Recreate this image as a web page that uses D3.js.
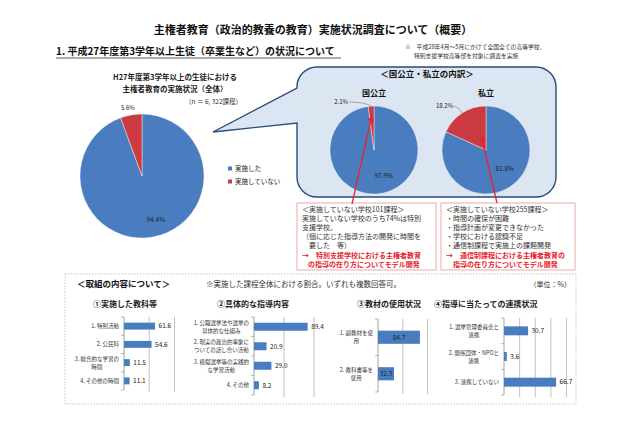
<!DOCTYPE html>
<html>
<head>
<meta charset="utf-8">
<script src="https://cdn.jsdelivr.net/npm/d3@7"></script>
<style>
  body { margin: 0; background: #fff; }
  svg { font-family: "Noto Sans CJK JP", "Noto Sans", sans-serif; }
</style>
</head>
<body>
<div id="chart"></div>
<script>
// ---- data ----
const statusLabels = ["実施した", "実施していない"];
const overallValues = [94.4, 5.6];
const publicValues = [97.9, 2.1];
const privateValues = [81.8, 18.2];

const subjectCats = [["1. 特別活動"], ["2. 公民科"], ["3. 総合的な学習の", "時間"], ["4. その他の時間"]];
const subjectValues = [61.6, 54.6, 11.5, 11.1];
const contentCats = [["1. 公職選挙法や選挙の", "具体的な仕組み"], ["2. 現実の政治的事象に", "ついての話し合い活動"], ["3. 模擬選挙等の実践的", "な学習活動"], ["4. その他"]];
const contentValues = [89.4, 20.9, 29.0, 8.2];
const materialCats = [["1. 副教材を使", "用"], ["2. 教科書等を", "使用"]];
const materialValues = [84.7, 32.3];
const linkCats = [["1. 選挙管理委員会と", "連携"], ["2. 関係団体・NPOと", "連携"], ["3. 連携していない"]];
const linkValues = [30.7, 3.6, 66.7];

const publicNotes = ["＜実施していない学校101課程＞", "実施していない学校のうち74%は特別", "支援学校。", "（個に応じた指導方法の開発に時間を", "　要した　等）"];
const publicAction = ["→　特別支援学校における主権者教育", "の指導の在り方についてモデル開発"];
const privateNotes = ["＜実施していない学校255課程＞", "・時間の確保が困難", "・指導計画が変更できなかった", "・学校における認識不足", "・通信制課程で実施上の課題開発"];
const privateAction = ["→　通信制課程における主権者教育の", "指導の在り方についてモデル開発"];

const blue = "#4a7dc0", red = "#cc3a42", arrowRed = "#e8242c";
const colors = [blue, red];

const svg = d3.select("#chart").append("svg")
    .attr("width", 640)
    .attr("height", 426);

svg.append("defs").append("marker")
    .attr("id", "head")
    .attr("viewBox", "0 0 10 10")
    .attr("refX", 8).attr("refY", 5)
    .attr("markerWidth", 5).attr("markerHeight", 5)
    .attr("orient", "auto")
    .append("path").attr("d", "M0,0L10,5L0,10z").attr("fill", arrowRed);

// ---- headings ----
svg.append("text").attr("x", 313).attr("y", 34).attr("text-anchor", "middle")
    .attr("font-size", 11).attr("font-weight", "bold").attr("fill", "#111")
    .text("主権者教育（政治的教養の教育）実施状況調査について（概要）");
svg.append("text").attr("x", 56).attr("y", 55)
    .attr("font-size", 10).attr("font-weight", "bold").attr("fill", "#111")
    .text("1. 平成27年度第3学年以上生徒（卒業生など）の状況について");
svg.append("line").attr("x1", 56).attr("x2", 341).attr("y1", 58).attr("y2", 58)
    .attr("stroke", "#333").attr("stroke-width", 0.8);
svg.append("text").attr("x", 405).attr("y", 49).attr("font-size", 5.8).attr("fill", "#333")
    .text("※　平成28年4月～5月にかけて全国全ての高等学校、");
svg.append("text").attr("x", 414).attr("y", 58).attr("font-size", 5.8).attr("fill", "#333")
    .text("特別支援学校高等部を対象に調査を実施");

// ---- overall pie ----
function polar(cx, cy, a, r) {
    return [cx + r * Math.sin(a), cy - r * Math.cos(a)];
}

function drawPie(values, cx, cy, r) {
    const arcs = d3.pie().sort(null)(values);
    const arc = d3.arc().innerRadius(0).outerRadius(r);
    svg.append("g").attr("transform", `translate(${cx},${cy})`)
        .selectAll("path").data(arcs).join("path")
        .attr("d", arc)
        .attr("fill", (d, i) => colors[i])
        .attr("stroke", "#fff").attr("stroke-width", 0.4);
    return arcs.map(d => (d.startAngle + d.endAngle) / 2);
}

const pc = {cx: 142, cy: 176, r: 62};
svg.append("text").attr("x", 175).attr("y", 80).attr("text-anchor", "middle")
    .attr("font-size", 7.5).attr("font-weight", "bold").attr("fill", "#222")
    .text("H27年度第3学年以上の生徒における");
svg.append("text").attr("x", 175).attr("y", 92).attr("text-anchor", "middle")
    .attr("font-size", 7.5).attr("font-weight", "bold").attr("fill", "#222")
    .text("主権者教育の実施状況（全体）");
svg.append("text").attr("x", 185).attr("y", 104)
    .attr("font-size", 6.5).attr("fill", "#333")
    .text("（n ＝ 6, 322課程）");

const mids = drawPie(overallValues, pc.cx, pc.cy, pc.r);
let p = polar(pc.cx, pc.cy, mids[0], pc.r * 0.72);
svg.append("text").attr("x", p[0] + 6).attr("y", p[1] + 2).attr("text-anchor", "middle")
    .attr("font-size", 6.5).attr("fill", "#222").text(overallValues[0].toFixed(1) + "%");
p = polar(pc.cx, pc.cy, mids[1], pc.r * 1.12);
svg.append("text").attr("x", p[0] - 2).attr("y", p[1] + 2).attr("text-anchor", "middle")
    .attr("font-size", 6).attr("fill", "#222").text(overallValues[1].toFixed(1) + "%");

const legend = svg.append("g").attr("transform", "translate(228,169)");
statusLabels.forEach((s, i) => {
    legend.append("rect").attr("x", 0).attr("y", i * 13 - 2.5).attr("width", 4).attr("height", 4)
        .attr("fill", colors[i]);
    legend.append("text").attr("x", 7).attr("y", i * 13 + 2.3)
        .attr("font-size", 6.5).attr("fill", "#222").text(s);
});

// ---- callout bubble ----
const bx0 = 297, bx1 = 556, by0 = 67, by1 = 197, br = 20;
svg.append("path")
    .attr("d", `M${bx0 + br},${by0}H${bx1 - br}A${br},${br} 0 0 1 ${bx1},${by0 + br}` +
        `V${by1 - br}A${br},${br} 0 0 1 ${bx1 - br},${by1}H${bx0 + br}` +
        `A${br},${br} 0 0 1 ${bx0},${by1 - br}V123L213,132L${bx0},88V${by0 + br}` +
        `A${br},${br} 0 0 1 ${bx0 + br},${by0}Z`)
    .attr("fill", "#dce6f2").attr("stroke", "#274b7a").attr("stroke-width", 1.4);

svg.append("text").attr("x", 427).attr("y", 77).attr("text-anchor", "middle")
    .attr("font-size", 8.5).attr("font-weight", "bold").attr("fill", "#111")
    .text("＜国公立・私立の内訳＞");

const pub = {cx: 374, cy: 150, r: 44, name: "国公立"};
const pri = {cx: 486, cy: 150, r: 44, name: "私立"};
[pub, pri].forEach(c => {
    svg.append("text").attr("x", c.cx).attr("y", 96).attr("text-anchor", "middle")
        .attr("font-size", 8).attr("font-weight", "bold").attr("fill", "#111").text(c.name);
});

const pubMids = drawPie(publicValues, pub.cx, pub.cy, pub.r);
const priMids = drawPie(privateValues, pri.cx, pri.cy, pri.r);

p = polar(pub.cx, pub.cy, pubMids[0], pub.r * 0.6);
svg.append("text").attr("x", p[0] + 8).attr("y", p[1] + 2).attr("text-anchor", "middle")
    .attr("font-size", 6.5).attr("fill", "#222").text(publicValues[0].toFixed(1) + "%");
p = polar(pri.cx, pri.cy, priMids[0], pri.r * 0.62);
svg.append("text").attr("x", p[0] + 4).attr("y", p[1] - 2).attr("text-anchor", "middle")
    .attr("font-size", 6.5).attr("fill", "#222").text(privateValues[0].toFixed(1) + "%");

// outside labels with leader lines
p = polar(pub.cx, pub.cy, pubMids[1], pub.r);
svg.append("path").attr("d", `M${p[0] - 22},${p[1] - 4}Q${p[0] - 6},${p[1] - 4} ${p[0]},${p[1]}`)
    .attr("fill", "none").attr("stroke", "#777").attr("stroke-width", 0.6);
svg.append("text").attr("x", p[0] - 23).attr("y", p[1] - 2).attr("text-anchor", "end")
    .attr("font-size", 6).attr("fill", "#222").text(publicValues[1].toFixed(1) + "%");
p = polar(pri.cx, pri.cy, priMids[1], pri.r);
svg.append("path").attr("d", `M${p[0] - 8},${p[1] - 7}Q${p[0] - 3},${p[1] - 6} ${p[0]},${p[1]}`)
    .attr("fill", "none").attr("stroke", "#777").attr("stroke-width", 0.6);
svg.append("text").attr("x", p[0] - 9).attr("y", p[1] - 5).attr("text-anchor", "end")
    .attr("font-size", 6).attr("fill", "#222").text(privateValues[1].toFixed(1) + "%");

// ---- note boxes ----
function noteBox(x0, x1, lines, action, actionIndent) {
    svg.append("rect").attr("x", x0).attr("y", 203).attr("width", x1 - x0).attr("height", 67)
        .attr("fill", "#fff").attr("stroke", "#e8a0a8").attr("stroke-width", 0.9);
    lines.forEach((t, i) => {
        svg.append("text").attr("x", x0 + 5).attr("y", 212 + i * 9.1)
            .attr("font-size", 7).attr("fill", "#333").text(t);
    });
    action.forEach((t, i) => {
        svg.append("text").attr("x", x0 + 5 + (i ? actionIndent : 0)).attr("y", 257.5 + i * 9)
            .attr("font-size", 7).attr("font-weight", "bold").attr("fill", arrowRed).text(t);
    });
}
noteBox(297, 436, publicNotes, publicAction, 6);
noteBox(441, 575, privateNotes, privateAction, 7);

// red arrows from boxes to the "not implemented" slices
p = polar(pub.cx, pub.cy, pubMids[1], pub.r * 0.77);
svg.append("line").attr("x1", 352).attr("y1", 204).attr("x2", p[0]).attr("y2", p[1])
    .attr("stroke", arrowRed).attr("stroke-width", 1.3).attr("marker-end", "url(#head)");
p = polar(pri.cx, pri.cy, priMids[1], pri.r * 0.36);
svg.append("line").attr("x1", 497).attr("y1", 203).attr("x2", p[0] + 4).attr("y2", p[1])
    .attr("stroke", arrowRed).attr("stroke-width", 1.3).attr("marker-end", "url(#head)");

// ---- bottom panel ----
svg.append("rect").attr("x", 65).attr("y", 274).attr("width", 511).attr("height", 130)
    .attr("fill", "none").attr("stroke", "#b8b8b8").attr("stroke-width", 0.8)
    .attr("stroke-dasharray", "1.5,1.5");
svg.append("text").attr("x", 77).attr("y", 287).attr("font-size", 8.5).attr("font-weight", "bold")
    .attr("fill", "#111").text("＜取組の内容について＞");
svg.append("text").attr("x", 206).attr("y", 287).attr("font-size", 7.5).attr("fill", "#333")
    .text("※実施した課程全体における割合。いずれも複数回答可。");
svg.append("text").attr("x", 571).attr("y", 287).attr("text-anchor", "end").attr("font-size", 7)
    .attr("fill", "#333").text("（単位：%）");

const panelTitles = [["①実施した教科等", 93], ["②具体的な指導内容", 217], ["③教材の使用状況", 357], ["④指導に当たっての連携状況", 434]];
panelTitles.forEach(([t, x]) => {
    svg.append("text").attr("x", x).attr("y", 307).attr("font-size", 8).attr("font-weight", "bold")
        .attr("fill", "#222").text(t);
});

function barChart(cats, values, cfg) {
    const x = d3.scaleLinear().domain([0, cfg.max]).range([cfg.x0, cfg.x1]);
    const y = d3.scaleBand().domain(d3.range(cats.length))
        .range([cfg.y0, cfg.y1]).paddingInner(cfg.pad).paddingOuter(cfg.pad / 2);
    const g = svg.append("g");

    // gridlines
    g.selectAll("line.grid").data(x.ticks(cfg.ticks).filter(v => v > 0)).join("line")
        .attr("x1", d => x(d)).attr("x2", d => x(d))
        .attr("y1", cfg.y0).attr("y2", cfg.y1 + 2)
        .attr("stroke", "#a8a8a8").attr("stroke-width", 0.7);

    // category axis with small ticks at band edges
    g.append("line").attr("x1", cfg.x0).attr("x2", cfg.x0).attr("y1", cfg.y0).attr("y2", cfg.y1)
        .attr("stroke", "#8c8c8c").attr("stroke-width", 0.8);
    const edges = d3.range(cats.length + 1).map(i => cfg.y0 + i * y.step());
    g.selectAll("line.tick").data(edges).join("line")
        .attr("x1", cfg.x0 - 3).attr("x2", cfg.x0).attr("y1", d => d).attr("y2", d => d)
        .attr("stroke", "#8c8c8c").attr("stroke-width", 0.6);

    // bars
    g.selectAll("rect").data(values).join("rect")
        .attr("x", cfg.x0).attr("y", (d, i) => y(i))
        .attr("width", d => x(d) - cfg.x0).attr("height", y.bandwidth())
        .attr("fill", blue);

    // value labels
    g.selectAll("text.val").data(values).join("text")
        .attr("x", d => cfg.inside ? (cfg.x0 + x(d)) / 2 : x(d) + 3.5)
        .attr("y", (d, i) => y(i) + y.bandwidth() / 2 + 2.3)
        .attr("text-anchor", cfg.inside ? "middle" : "start")
        .attr("font-size", 6.5).attr("fill", "#222")
        .text(d => d.toFixed(1));

    // category labels, lines centred like Excel wraps them
    const lh = 8;
    cats.forEach((lines, i) => {
        const t = g.append("text").attr("font-size", 5.5).attr("fill", "#333")
            .attr("text-anchor", "middle");
        const spans = lines.map(s => t.append("tspan").text(s));
        const w = d3.max(spans, s => s.node().getComputedTextLength());
        const cx = cfg.x0 - 5 - w / 2;
        const cy = y(i) + y.bandwidth() / 2 - (lines.length - 1) * lh / 2 + 2;
        spans.forEach((s, j) => s.attr("x", cx).attr("y", cy + j * lh));
    });
}

barChart(subjectCats, subjectValues, {x0: 124, x1: 174.5, max: 100, ticks: 2, y0: 317, y1: 390, pad: 0.62});
barChart(contentCats, contentValues, {x0: 254, x1: 314, max: 100, ticks: 2, y0: 317, y1: 395, pad: 0.59});
barChart(materialCats, materialValues, {x0: 378, x1: 427.5, max: 100, ticks: 2, y0: 319, y1: 392, pad: 0.64, inside: true});
barChart(linkCats, linkValues, {x0: 504, x1: 566.5, max: 80, ticks: 4, y0: 318, y1: 395, pad: 0.65});
</script>
</body>
</html>
